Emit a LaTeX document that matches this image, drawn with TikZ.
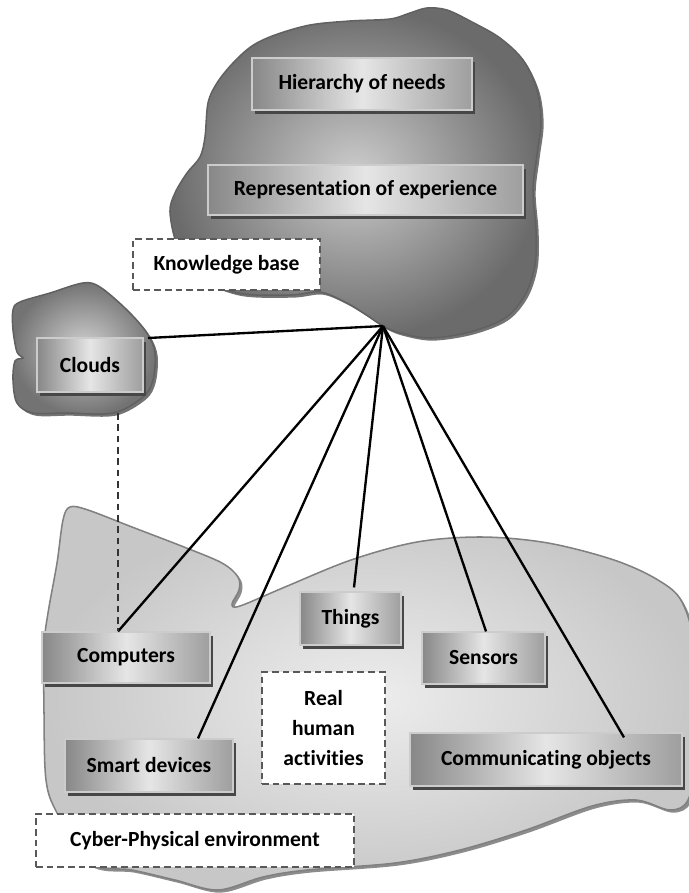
\documentclass[tikz,border=0pt]{standalone}
\usepackage{fontspec}
\setmainfont{Carlito}[RawFeature={-liga;-clig;-dlig}]
\usetikzlibrary{shadows,calc}
\newdimen\pxu \pxu=0.03cm
\begin{document}
\begin{tikzpicture}[x=0.03cm,y=-0.03cm,
  lbl/.style={font=\fontsize{18.4}{25.6}\selectfont\bfseries, text=black, inner sep=0pt, align=center},
  gbox/.style={lbl, draw=black!20, line width=1pt, left color=black!47, right color=black!38, middle color=black!10,
     drop shadow={shadow xshift=0.1cm, shadow yshift=-0.12cm, fill=black!72, opacity=1}},
  dbox/.style={lbl, draw=black!65, fill=white, line width=1.6pt, dash pattern=on 0.2cm off 0.12cm},
  link/.style={draw=black, line width=2pt},
  dlink/.style={draw=black!80, line width=1.1pt, dash pattern=on 0.2cm off 0.14cm},
  topblob/.style={draw=black!62, line width=1.3pt, inner color=black!20, outer color=black!58,
     drop shadow={shadow xshift=0.08cm, shadow yshift=-0.08cm, fill=black!55, opacity=1}},
  botblob/.style={draw=black!50, line width=1.3pt, inner color=black!7, outer color=black!22,
     drop shadow={shadow xshift=0.08cm, shadow yshift=-0.08cm, fill=black!45, opacity=1}}
]
\useasboundingbox (0,0) rectangle (688,893);

% bottom blob (cyber-physical environment)
\shade[botblob] plot[smooth cycle, tension=0.55] coordinates {
 (70,507) (88,510) (132,527) (184,547) (222,563) (238,577) (239,590) (232,604) (240,606)
 (285,587) (351,560) (417,542) (482,537) (548,543) (614,560) (658,580) (682,602) (694,650)
 (694,760) (688,800) (670,810) (636,800) (592,806) (526,830) (460,850) (395,863) (307,870)
 (263,877) (218,890) (175,880) (132,870) (88,863) (57,813) (46,780) (44,713) (44,647)
 (48,613) (57,563) (63,520)};

% top blob (knowledge base)
\shade[topblob] plot[smooth cycle, tension=0.55] coordinates {
 (233,63) (252,46) (275,35) (310,25) (350,21) (390,19) (410,13) (427,8) (447,10) (472,22)
 (500,38) (523,60) (537,90) (541,122) (537,155) (533,190) (536,230) (535,265) (525,295)
 (505,318) (470,332) (430,338) (400,333) (383,326) (365,314) (345,302) (320,292) (290,295)
 (237,293) (195,275) (177,245) (170,212) (175,193) (187,173) (200,157) (205,137) (208,103) (217,83)};

% clouds blob
\shade[topblob, inner color=black!18, outer color=black!55] plot[smooth cycle, tension=0.55] coordinates {
 (13,310) (20,302) (50,293) (83,283) (100,287) (127,310) (147,333) (155,353) (153,380)
 (143,397) (113,413) (67,413) (33,413) (17,403) (13,380) (15,361) (23,358) (17,352) (13,330)};

% boxes
\node[gbox, minimum width=220\pxu, minimum height=52\pxu] (needs) at (362,84) {Hierarchy of needs};
\node[gbox, minimum width=315\pxu, minimum height=50\pxu] (exper) at (365.5,190) {Representation of experience};
\node[dbox, minimum width=187\pxu, minimum height=51\pxu] (kb) at (226.5,264.5) {Knowledge base};
\node[gbox, minimum width=106\pxu, minimum height=54\pxu] (clouds) at (90,365) {Clouds};

\node[gbox, minimum width=168\pxu, minimum height=51\pxu] (comp) at (126,657.5) {Computers};
\node[gbox, minimum width=101\pxu, minimum height=53\pxu] (things) at (350.5,618.5) {Things};
\node[gbox, minimum width=123\pxu, minimum height=52\pxu] (sens) at (483.5,658) {Sensors};
\node[gbox, minimum width=168\pxu, minimum height=53\pxu] (smart) at (149,765.5) {Smart devices};
\node[gbox, minimum width=272\pxu, minimum height=53\pxu] (comm) at (546,759.5) {Communicating objects};
\node[dbox, minimum width=123\pxu, minimum height=112\pxu] (real) at (323.5,728) {Real\\human\\activities};
\node[dbox, minimum width=318\pxu, minimum height=53\pxu] (cpe) at (195,840.5) {Cyber-Physical environment};

% connectors
\coordinate (hub) at (383,326);
\coordinate (cloudsedge) at (148,338);
\coordinate (cloudsbottom) at (118,413);
\draw[link] (hub) -- (cloudsedge);
\draw[link] (hub) -- ($(comp.north)+(-8,0)$);
\draw[link] (hub) -- ($(smart.north)+(49,0)$);
\draw[link] (hub) -- ($(things.north)+(3.5,-4)$);
\draw[link] (hub) -- ($(sens.north)+(2.5,0)$);
\draw[link] (hub) -- ($(comm.north)+(78,5)$);
\draw[dlink] (cloudsbottom) -- ($(comp.north)+(-8,0)$);
\end{tikzpicture}
\end{document}
